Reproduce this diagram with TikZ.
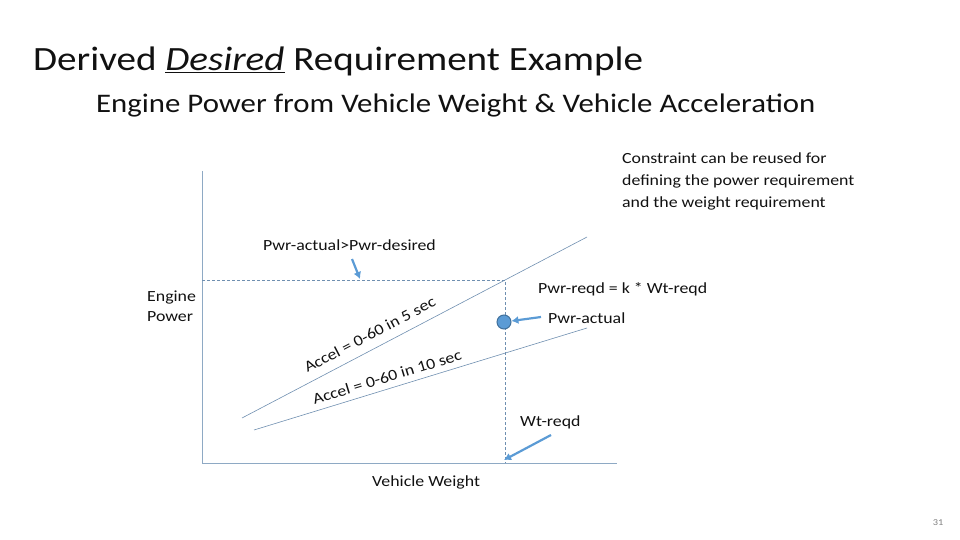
\documentclass[tikz,border=0pt]{standalone}
\usepackage{fontspec}
\setmainfont[FakeStretch=1.15]{Carlito}
\usetikzlibrary{arrows.meta}
\definecolor{axisblue}{HTML}{8EA9C4}
\definecolor{lineblue}{HTML}{6F8FB0}
\definecolor{arrowblue}{HTML}{5B9BD5}
\definecolor{dotedge}{HTML}{41719C}
\definecolor{textgray}{HTML}{111111}
\begin{document}
\begin{tikzpicture}[x=1pt,y=-1pt,
    axisline/.style={draw=axisblue, line width=0.9pt},
    guide/.style={draw=lineblue, line width=0.6pt, dash pattern=on 3pt off 2pt},
    accel/.style={draw=lineblue, line width=0.6pt},
    callout/.style={draw=arrowblue, line width=2.2pt, -{Latex[length=7pt,width=8pt]}},
    lbl/.style={font=\fontsize{15.5}{19}\selectfont, text=textgray, inner sep=0pt},
    slopetext/.style={font=\fontsize{15.5}{18}\selectfont, text=textgray, inner sep=0pt, sloped}]
    \useasboundingbox (0,0) rectangle (960,540);

    % Headings
    \node[anchor=base west, inner sep=0pt, font=\fontsize{34}{40}\selectfont, text=textgray] (title)
        at (33,71) {Derived \underline{\textit{Desired}} Requirement Example};
    \node[anchor=base west, inner sep=0pt, font=\fontsize{26.8}{30}\selectfont, text=textgray] (subtitle)
        at (96,113) {Engine Power from Vehicle Weight \& Vehicle Acceleration};
    \node[lbl, anchor=north west, align=left, font=\fontsize{15.5}{22}\selectfont] (note)
        at (622,153) {Constraint can be reused for\\defining the power requirement\\and the weight requirement};

    % Axes
    \coordinate (origin) at (202,463);
    \coordinate (ytop) at (202,171);
    \coordinate (xend) at (617,463);
    \draw[axisline] (ytop) -- (origin) -- (xend);

    % Required point and guide lines
    \coordinate (pwrlevel) at (202,280);
    \coordinate (corner) at (505,280);
    \coordinate (wtfoot) at (505,463);
    \draw[guide] (pwrlevel) -- (corner) -- (wtfoot);

    % Acceleration lines
    \coordinate (fastA) at (242,418);
    \coordinate (fastB) at (587,237);
    \coordinate (slowA) at (254,430);
    \coordinate (slowB) at (587,328);
    \draw[accel] (fastA) -- (fastB) node[slopetext, pos=0.39, above=9pt] (fastlbl) {Accel = 0-60 in 5 sec};
    \draw[accel] (slowA) -- (slowB) node[slopetext, pos=0.41, above=6pt] (slowlbl) {Accel = 0-60 in 10 sec};

    % Actual power point
    \node[circle, fill=arrowblue, draw=dotedge, line width=1pt, minimum size=14pt, inner sep=0pt] (actual) at (504,322) {};

    % Labels
    \node[lbl, anchor=base west] (desired) at (263,250) {Pwr-actual>Pwr-desired};
    \node[lbl, anchor=north west, align=left, font=\fontsize{15.5}{20}\selectfont] (yname) at (147,291) {Engine\\Power};
    \node[lbl, anchor=base west] (reqd) at (538,293) {Pwr-reqd = k * Wt-reqd};
    \node[lbl, anchor=base west] (actlbl) at (548,323) {Pwr-actual};
    \node[lbl, anchor=base west] (wtlbl) at (520,426) {Wt-reqd};
    \node[lbl, anchor=base west] (xname) at (372,486) {Vehicle Weight};
    \node[inner sep=0pt, font=\fontsize{9}{11}\selectfont, text=gray] (page) at (938,523) {31};

    % Callout arrows
    \coordinate (desiredtail) at (352,259);
    \coordinate (desiredtip) at (360,279);
    \coordinate (acttail) at (541,317);
    \coordinate (wttail) at (551,435);
    \coordinate (wttip) at (504,460);
    \draw[callout] (desiredtail) -- (desiredtip);
    \draw[callout] (acttail) -- (actual);
    \draw[callout] (wttail) -- (wttip);
\end{tikzpicture}
\end{document}
